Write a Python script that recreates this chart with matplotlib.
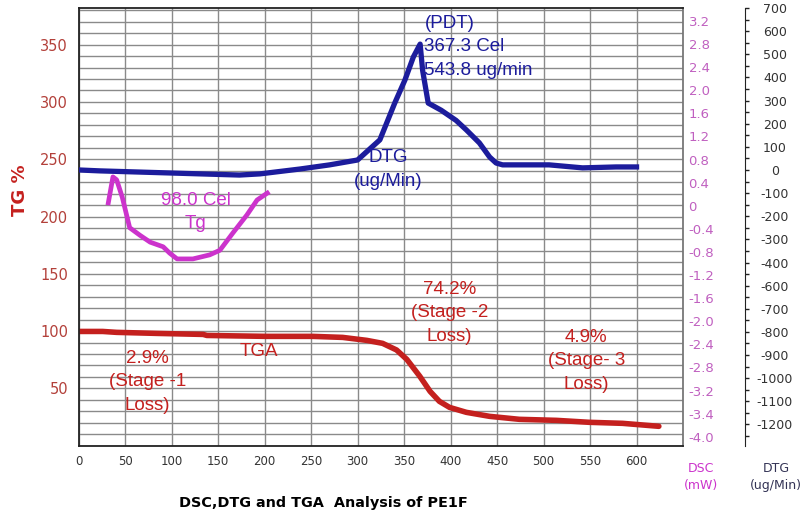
import matplotlib.pyplot as plt
from matplotlib.ticker import MultipleLocator

# values
temp_ticks = list(range(0, 650, 50))
tg_ticks = [50, 100, 150, 200, 250, 300, 350]

tga_temp = [0, 26, 41, 84, 134, 138, 202, 252, 284, 310, 327, 342, 353, 367, 378, 388, 399,
            417, 442, 474, 514, 549, 585, 624]
tga_pct = [99.7, 99.7, 98.9, 98.0, 97.1, 96.2, 95.4, 95.4, 94.5, 91.9, 89.3, 83.5, 75.3, 60.5,
           47.4, 38.7, 33.4, 29.1, 25.6, 23.0, 22.1, 20.4, 19.5, 16.9]

dtg_temp = [0, 23, 98, 173, 195, 238, 270, 300, 324, 340, 351, 360, 367.3, 370, 376, 390, 406,
            417, 431, 442, 449, 456, 506, 542, 578, 600]
dtg_rate = [0, -4, -13, -22, -17, 4, 22, 43, 130, 289, 389, 488, 543.8, 430, 289, 258, 214,
            173, 117, 56, 30, 22, 22, 9, 13, 13]

dsc_temp = [32, 37, 41, 47, 55, 66, 77, 91, 98, 106, 123, 141, 152, 166, 181, 192, 203]
dsc_mw = [0.05, 0.50, 0.45, 0.15, -0.38, -0.51, -0.63, -0.71, -0.82, -0.92, -0.92, -0.85,
          -0.77, -0.47, -0.16, 0.10, 0.22]

# the scan's right-hand scales are evenly spaced but their labels skip values
dsc_labels = ['3.2', '2.8', '2.4', '2.0', '1.6', '1.2', '0.8', '0.4', '0', '-0.4', '-0.8',
              '-1.2', '-1.6', '-2.0', '-2.4', '-2.8', '-3.2', '-3.4', '-4.0']
dtg_labels = ['700', '600', '500', '400', '300', '200', '100', '0', '-100', '-200', '-300',
              '-400', '-600', '-700', '-800', '-900', '-1000', '-1100', '-1200']
dsc_pos = [3.2 - 0.4 * i for i in range(len(dsc_labels))]
dtg_pos = [700 - 100 * i for i in range(len(dtg_labels))]

RED = '#c4201e'
BLUE = '#1c1c9c'
MAG = '#cc33cc'

fig = plt.figure(figsize=(8.03, 5.15), dpi=100)
ax = fig.add_axes([0.0978, 0.1346, 0.7528, 0.8499])
ax.set_xlim(0, 650)
ax.set_ylim(0, 382)
ax.set_xticks(temp_ticks)
ax.set_yticks(tg_ticks)
ax.yaxis.set_minor_locator(MultipleLocator(10))
ax.yaxis.grid(True, which='both', color='#8a8a8a', lw=1)
ax.xaxis.grid(True, which='major', color='#8a8a8a', lw=1)
ax.set_axisbelow(True)
ax.tick_params(axis='x', length=0, pad=6.5, labelsize=8.5, labelcolor='#333333')
ax.tick_params(axis='y', which='both', length=0, pad=7.5, labelsize=10.5, labelcolor='#b3403a')
for s in ax.spines.values():
    s.set_color('#222222')
    s.set_linewidth(1.3)
ax.spines['right'].set_color('#777777')

ax.plot(tga_temp, tga_pct, color=RED, lw=4, solid_capstyle='round')

# DSC scale
ax2 = ax.twinx()
ax2.set_ylim(-4.154, 3.425)
ax2.set_yticks(dsc_pos)
ax2.set_yticklabels(dsc_labels)
ax2.tick_params(axis='y', length=0, pad=4, labelsize=9.5, labelcolor='#c060c0')
for s in ax2.spines.values():
    s.set_visible(False)
ax2.plot(dsc_temp, dsc_mw, color=MAG, lw=3.4)

# DTG scale
ax3 = ax.twinx()
ax3.spines['right'].set_position(('axes', 1.1026))
for k in ['left', 'top', 'bottom']:
    ax3.spines[k].set_visible(False)
ax3.spines['right'].set_color('#222222')
ax3.set_ylim(-1191.6, 700)
ax3.set_yticks(dtg_pos)
ax3.set_yticklabels(dtg_labels)
ax3.yaxis.set_minor_locator(MultipleLocator(50))
ax3.tick_params(axis='y', which='both', length=3, width=1, color='#222222')
ax3.tick_params(axis='y', pad=18.5, labelsize=9, labelcolor='#333333')
for lab in ax3.get_yticklabels():
    lab.set_horizontalalignment('center')
ax3.plot(dtg_temp, dtg_rate, color=BLUE, lw=3.8)

fnt = dict(family='Liberation Sans', fontsize=13.5, linespacing=1.5)
ax.text(372, 348, '(PDT)\n367.3 Cel\n543.8 ug/min', color=BLUE, ha='left', va='center', **fnt)
ax.text(333, 241, 'DTG\n(ug/Min)', color=BLUE, ha='center', va='center', **fnt)
ax.text(126, 204, '98.0 Cel\nTg', color=MAG, ha='center', va='center', **fnt)
ax.text(399, 116, '74.2%\n(Stage -2\nLoss)', color=RED, ha='center', va='center', **fnt)
ax.text(546, 74, '4.9%\n(Stage- 3\nLoss)', color=RED, ha='center', va='center', **fnt)
ax.text(74, 56, '2.9%\n(Stage -1\nLoss)', color=RED, ha='center', va='center', **fnt)
ax.text(194, 82, 'TGA', color=RED, ha='center', va='center', **fnt)

fig.text(20 / 803, 1 - 190 / 515, 'TG %', rotation=90, color=RED, fontsize=13,
         fontweight='bold', ha='center', va='center')
fig.text(323 / 803, 1 - 503 / 515, 'DSC,DTG and TGA  Analysis of PE1F', fontsize=10.4,
         fontweight='bold', ha='center', va='center')
fig.text(701 / 803, 1 - 477 / 515, 'DSC\n(mW)', color=MAG, fontsize=9, ha='center',
         va='center', linespacing=1.5)
fig.text(776 / 803, 1 - 477 / 515, 'DTG\n(ug/Min)', color='#333355', fontsize=9, ha='center',
         va='center', linespacing=1.5)

fig.savefig('out.png', dpi=100)
